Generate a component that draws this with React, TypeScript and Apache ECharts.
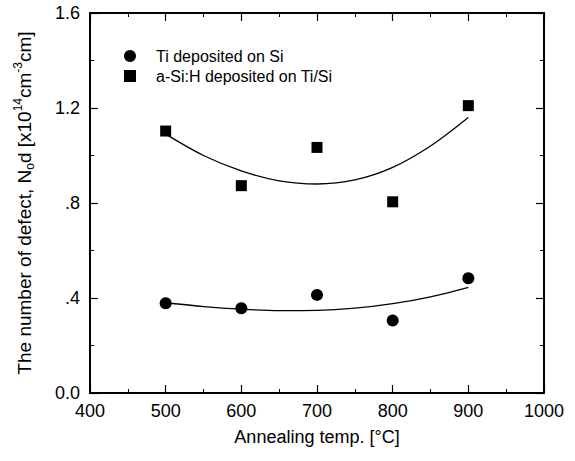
import React, { useEffect, useRef } from "react";
import * as echarts from "echarts";

const xTicks = [400, 500, 600, 700, 800, 900, 1000];
const temps = [500, 600, 700, 800, 900];
const tiOnSi = [0.378, 0.357, 0.413, 0.305, 0.483];
const aSiOnTi = [1.103, 0.873, 1.034, 0.805, 1.21];
const fitTemps = [500, 550, 600, 650, 700, 750, 800, 850, 900];
const tiFit = [0.38, 0.364, 0.353, 0.347, 0.348, 0.357, 0.376, 0.405, 0.445];
const aSiFit = [1.09, 1.0, 0.935, 0.893, 0.88, 0.897, 0.95, 1.04, 1.16];
const seriesNames = ["Ti deposited on Si", "a-Si:H deposited on Ti/Si"];

const FONT = "Liberation Sans";

export default function App() {
  const ref = useRef<HTMLDivElement>(null);
  useEffect(() => {
    if (!ref.current) return;
    const chart = echarts.init(ref.current, null, { renderer: "svg" });
    const pair = (xs: number[], ys: number[]) => xs.map((x, i) => [x, ys[i]]);
    const yFmt = (v: number) => {
      const s = v.toFixed(1);
      return v > 0 && v < 1 ? s.slice(1) : s;
    };
    const tickCommon = {
      axisLine: { show: true, onZero: false, lineStyle: { color: "#000", width: 2 } },
      axisTick: { show: true, inside: true, length: 8, lineStyle: { color: "#000", width: 1.2 } },
      minorTick: { show: true, splitNumber: 2, length: 4, lineStyle: { color: "#000", width: 1 } },
      splitLine: { show: false },
      minorSplitLine: { show: false },
    };
    chart.setOption({
      animation: false,
      backgroundColor: "#fff",
      textStyle: { fontFamily: FONT, color: "#000" },
      grid: { left: 90, right: 31, top: 13, bottom: 68 },
      legend: {
        orient: "vertical",
        left: 119,
        top: 43,
        itemWidth: 12,
        itemHeight: 12,
        itemGap: 4,
        data: seriesNames,
        textStyle: { fontFamily: FONT, fontSize: 16, color: "#000", padding: [0, 0, 0, 15] },
      },
      xAxis: [
        {
          type: "value",
          min: xTicks[0],
          max: xTicks[xTicks.length - 1],
          interval: 100,
          position: "bottom",
          ...tickCommon,
          axisLabel: { margin: 9, fontSize: 18, color: "#000", fontFamily: FONT, formatter: (v: number) => String(v) },
          name: "Annealing temp. [°C]",
          nameLocation: "middle",
          nameGap: 35,
          nameTextStyle: { fontSize: 18, color: "#000", fontFamily: FONT },
        },
        {
          type: "value",
          min: xTicks[0],
          max: xTicks[xTicks.length - 1],
          interval: 100,
          position: "top",
          ...tickCommon,
          axisLabel: { show: false },
        },
      ],
      yAxis: [
        {
          type: "value",
          min: 0,
          max: 1.6,
          interval: 0.4,
          position: "left",
          ...tickCommon,
          axisLabel: { margin: 10, fontSize: 18, color: "#000", fontFamily: FONT, formatter: yFmt },
          name: "{a|The number of defect, N}{sub|o}{a|d [x10}{sup|14}{a|cm}{sup|-3}{a|cm]}",
          nameLocation: "middle",
          nameGap: 54,
          nameRotate: 90,
          nameTextStyle: {
            fontSize: 19,
            color: "#000",
            fontFamily: FONT,
            rich: {
              a: { fontSize: 19, lineHeight: 24, fontFamily: FONT, color: "#000" },
              sup: { fontSize: 12, lineHeight: 14, verticalAlign: "top", fontFamily: FONT, color: "#000" },
              sub: { fontSize: 12, lineHeight: 14, verticalAlign: "bottom", fontFamily: FONT, color: "#000" },
            },
          },
        },
        {
          type: "value",
          min: 0,
          max: 1.6,
          interval: 0.4,
          position: "right",
          ...tickCommon,
          axisLabel: { show: false },
        },
      ],
      series: [
        {
          name: seriesNames[0],
          type: "scatter",
          symbol: "circle",
          symbolSize: 12,
          itemStyle: { color: "#000", opacity: 1 },
          data: pair(temps, tiOnSi),
          z: 3,
        },
        {
          name: seriesNames[1],
          type: "scatter",
          symbol: "rect",
          symbolSize: 11,
          itemStyle: { color: "#000", opacity: 1 },
          data: pair(temps, aSiOnTi),
          z: 3,
        },
        {
          name: "fit1",
          type: "line",
          smooth: 0.3,
          showSymbol: false,
          symbol: "none",
          lineStyle: { color: "#000", width: 1.3 },
          data: pair(fitTemps, tiFit),
          z: 2,
        },
        {
          name: "fit2",
          type: "line",
          smooth: 0.3,
          showSymbol: false,
          symbol: "none",
          lineStyle: { color: "#000", width: 1.3 },
          data: pair(fitTemps, aSiFit),
          z: 2,
        },
      ],
    });
    return () => chart.dispose();
  }, []);
  return <div ref={ref} style={{ width: 575, height: 461, position: "absolute", left: 0, top: 0 }} />;
}
